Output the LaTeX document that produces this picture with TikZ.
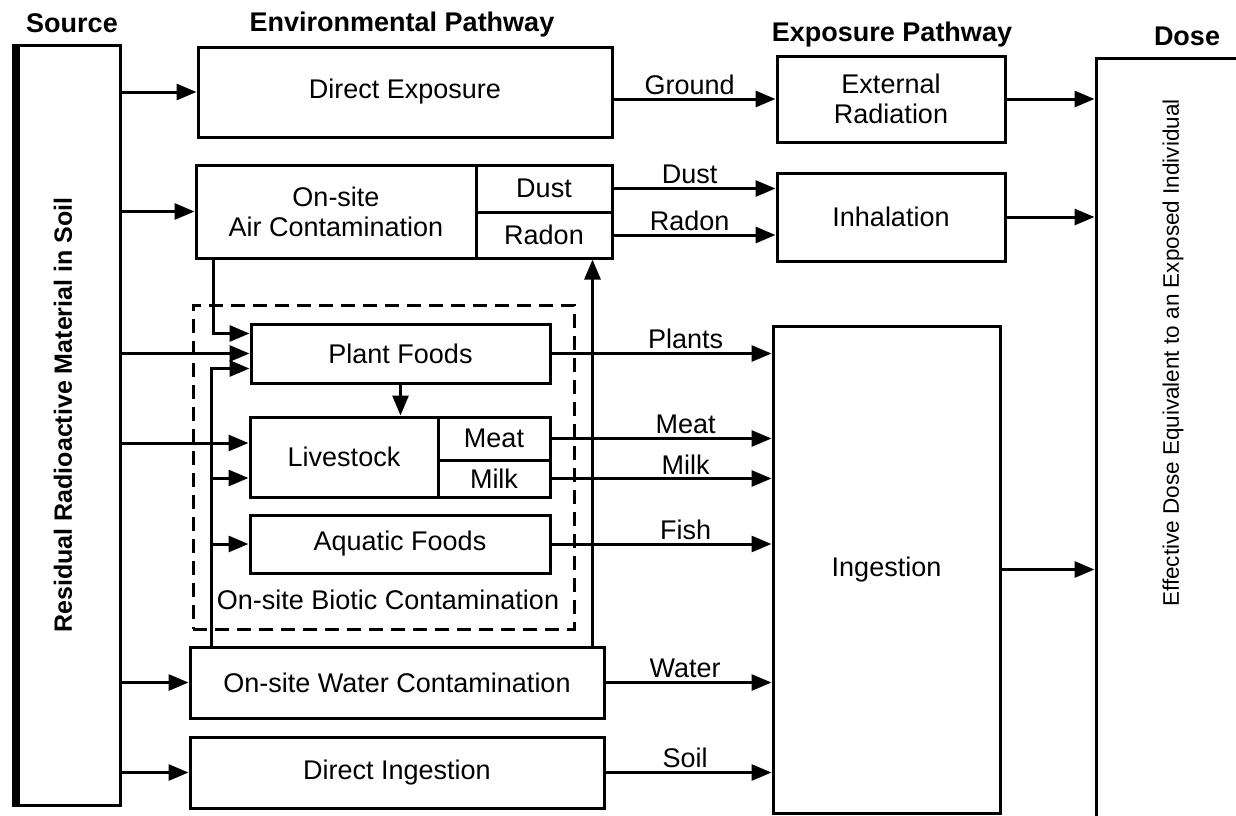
\documentclass[tikz,border=0pt]{standalone}
\usepackage{fontspec}
\setmainfont{Liberation Sans}
\usepackage{tikz}
\usetikzlibrary{arrows.meta, calc, positioning}

\begin{document}
\begin{tikzpicture}[x=1pt, y=-1pt,
    block/.style={rectangle, draw, line width=3pt, inner sep=0pt, align=center, font=\fontsize{27}{30}\selectfont},
    flow/.style={line width=3pt, -{Triangle[length=20pt, width=16pt]}},
    lbl/.style={above=1pt, inner sep=2pt, font=\fontsize{27}{30}\selectfont},
    head/.style={font=\bfseries\fontsize{27}{30}\selectfont}]
    \useasboundingbox (0,0) rectangle (1236,815);

        % Headings
        \node (hSource) [head] at (72,23) {Source};
        \node (hEnv) [head] at (402,25) {Environmental Pathway};
        \node (hExp) [head] at (892,35) {Exposure Pathway};
        \node (hDose) [head] at (1187,36) {Dose};

        % Define blocks
        \node (source) [block, minimum width=103pt, minimum height=760pt] at (68.5,425) {};
        \draw[line width=8pt] (source.north west) -- (source.south west);
        \node (srcText) [rotate=90, font=\bfseries\fontsize{25}{28}\selectfont] at (63,415) {Residual Radioactive Material in Soil};

        \node (dexp) [block, minimum width=414pt, minimum height=90pt] at (405,92) {Direct Exposure};
        \node (air) [block, minimum width=280pt, minimum height=93pt] at (336,211.5) {On-site\\Air Contamination};
        \node (dust) [block, minimum width=136pt, minimum height=47pt] at (544,188.5) {Dust};
        \node (radon) [block, minimum width=136pt, minimum height=46pt] at (544,235) {Radon};

        \node (biotic) [block, dashed, dash pattern=on 14pt off 8pt, minimum width=381pt, minimum height=324pt] at (383.5,467) {};
        \node (bioticText) [font=\fontsize{27}{30}\selectfont] at (388,600) {On-site Biotic Contamination};
        \node (plant) [block, minimum width=299pt, minimum height=59pt] at (400.5,353.5) {Plant Foods};
        \node (live) [block, minimum width=188pt, minimum height=80pt] at (344,457) {Livestock};
        \node (meat) [block, minimum width=112pt, minimum height=43pt] at (494,438.5) {Meat};
        \node (milk) [block, minimum width=112pt, minimum height=37pt] at (494,478.5) {Milk};
        \node (aqua) [block, minimum width=300pt, minimum height=58pt] at (400,544) {Aquatic Foods};

        \node (water) [block, minimum width=414pt, minimum height=71pt] at (397,682.5) {On-site Water Contamination};
        \node (dingest) [block, minimum width=414pt, minimum height=71pt] at (397,772.5) {Direct Ingestion};

        \node (extrad) [block, minimum width=228pt, minimum height=86pt] at (891,99) {External\\Radiation};
        \node (inhal) [block, minimum width=228pt, minimum height=88pt] at (891,217) {Inhalation};
        \node (ingest) [block, minimum width=227pt, minimum height=487pt] at (886.5,569.5) {Ingestion};

        \node (dose) [block, minimum width=184pt, minimum height=802pt] at (1188,459) {};
        \node (doseText) [rotate=90, font=\fontsize{22.5}{26}\selectfont] at (1173,353) {Effective Dose Equivalent to an Exposed Individual};

        % Feed points
        \coordinate (plantTop) at ($(plant.west)+(0,-20)$);
        \coordinate (plantLow) at ($(plant.west)+(0,15)$);
        \coordinate (liveTop) at ($(live.west)+(0,-14)$);
        \coordinate (liveLow) at ($(live.west)+(0,21)$);
        \coordinate (airDrop) at ($(air.south west)+(19,0)$);
        \coordinate (feed) at ($(water.north west)+(23,0)$);
        \coordinate (radonFeed) at ($(water.north east)+(-13,0)$);

        % Draw arrows
        \draw[flow] (source.east |- dexp) -- (dexp);
        \draw[flow] (source.east |- air) -- (air);
        \draw[flow] (source.east |- plant) -- (plant);
        \draw[flow] (source.east |- liveTop) -- (liveTop);
        \draw[flow] (source.east |- water) -- (water);
        \draw[flow] (source.east |- dingest) -- (dingest);

        \draw[flow] (airDrop) |- (plantTop);
        \draw[flow] (feed) |- (plantLow);
        \draw[flow] (feed |- liveLow) -- (liveLow);
        \draw[flow] (feed |- aqua) -- (aqua);
        \draw[flow] (radonFeed) -- (radonFeed |- radon.south);
        \draw[flow] (plant) -- (plant |- live.north);

        \draw[flow] (dexp.east |- extrad) -- (extrad) node[lbl, pos=.47] {Ground};
        \draw[flow] (dust.east) -- (dust.east -| inhal.west) node[lbl, pos=.47] {Dust};
        \draw[flow] (radon.east) -- (radon.east -| inhal.west) node[lbl, pos=.47] {Radon};
        \draw[flow] (plant.east) -- (plant.east -| ingest.west) node[lbl, pos=.61] {Plants};
        \draw[flow] (meat.east) -- (meat.east -| ingest.west) node[lbl, pos=.61] {Meat};
        \draw[flow] (milk.east) -- (milk.east -| ingest.west) node[lbl, pos=.61] {Milk};
        \draw[flow] (aqua.east) -- (aqua.east -| ingest.west) node[lbl, pos=.61] {Fish};
        \draw[flow] (water.east) -- (water.east -| ingest.west) node[lbl, pos=.48] {Water};
        \draw[flow] (dingest.east) -- (dingest.east -| ingest.west) node[lbl, pos=.48] {Soil};

        \draw[flow] (extrad) -- (extrad -| dose.west);
        \draw[flow] (inhal) -- (inhal -| dose.west);
        \draw[flow] (ingest) -- (ingest -| dose.west);

    \end{tikzpicture}
\end{document}
